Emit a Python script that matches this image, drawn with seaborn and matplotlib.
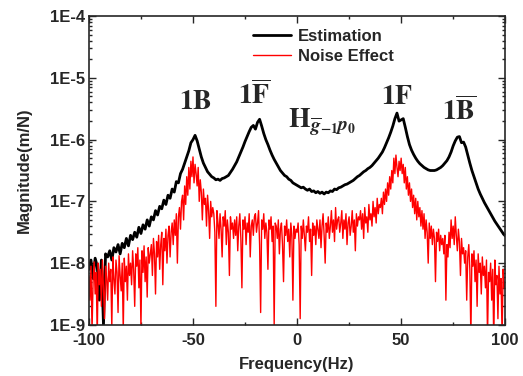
import numpy as np
import pandas as pd
import matplotlib
matplotlib.use('Agg')
import matplotlib.pyplot as plt
import matplotlib.ticker as mticker
import seaborn as sns

sns.set_style('ticks')
plt.rcParams['font.family'] = ['Liberation Sans', 'DejaVu Sans']
plt.rcParams['font.weight'] = 'bold'
plt.rcParams['mathtext.fontset'] = 'stix'
plt.rcParams['axes.unicode_minus'] = False

y_decades = [1e-9, 1e-8, 1e-7, 1e-6, 1e-5, 1e-4]

# black curve, log10 of magnitude, 1 Hz steps from -100 to 100
est_log10 = [
    -8.10, -7.95, -8.25, -7.92, -8.05, -8.60, -7.95, -9.00, -7.85, -7.90,
    -7.80, -7.95, -7.75, -7.82, -7.70, -7.85, -7.68, -7.75, -7.60, -7.72,
    -7.55, -7.62, -7.50, -7.58, -7.42, -7.52, -7.38, -7.45, -7.30, -7.40,
    -7.25, -7.30, -7.15, -7.22, -7.08, -7.12, -6.98, -7.05, -6.90, -6.95,
    -6.80, -6.85, -6.68, -6.70, -6.55, -6.48, -6.38, -6.28, -6.18, -6.05,
    -6.00, -5.93, -6.02, -6.15, -6.28, -6.38, -6.45, -6.52, -6.56, -6.60,
    -6.62, -6.65, -6.64, -6.66, -6.63, -6.62, -6.60, -6.58, -6.53, -6.48,
    -6.42, -6.36, -6.28, -6.20, -6.12, -6.03, -5.95, -5.87, -5.80, -5.77,
    -5.83, -5.72, -5.67, -5.78, -5.90, -6.00, -6.08, -6.17, -6.25, -6.32,
    -6.38, -6.44, -6.50, -6.54, -6.58, -6.60, -6.64, -6.66, -6.70, -6.72,
    -6.74, -6.76, -6.78, -6.77, -6.80, -6.82, -6.80, -6.84, -6.83, -6.86,
    -6.84, -6.87, -6.85, -6.88, -6.85, -6.86, -6.83, -6.84, -6.80, -6.81,
    -6.78, -6.77, -6.75, -6.73, -6.72, -6.70, -6.68, -6.66, -6.63, -6.60,
    -6.58, -6.55, -6.52, -6.50, -6.47, -6.45, -6.42, -6.38, -6.34, -6.30,
    -6.25, -6.20, -6.13, -6.05, -5.97, -5.88, -5.78, -5.66, -5.57, -5.70,
    -5.68, -5.66, -5.80, -5.95, -6.08, -6.17, -6.24, -6.30, -6.35, -6.39,
    -6.42, -6.45, -6.47, -6.49, -6.50, -6.50, -6.50, -6.49, -6.47, -6.45,
    -6.42, -6.38, -6.34, -6.28, -6.20, -6.10, -6.02, -5.96, -5.95, -6.05,
    -6.04, -6.12, -6.25, -6.38, -6.50, -6.60, -6.70, -6.80, -6.88, -6.95,
    -7.02, -7.08, -7.14, -7.20, -7.26, -7.32, -7.37, -7.42, -7.47, -7.52,
    -7.56,
]

# red curve, log10 of magnitude, 0.5 Hz steps from -100 to 100
noise_log10 = [
    -8.20, -8.60, -8.05, -9.10, -8.30, -7.98, -8.50, -8.15, -9.20, -8.00,
    -8.35, -8.10, -8.70, -7.95, -8.40, -8.90, -8.05, -8.25, -8.60, -8.00,
    -8.30, -8.10, -9.05, -7.90, -8.25, -8.50, -7.95, -8.15, -8.80, -7.88,
    -8.20, -8.45, -8.00, -9.10, -7.92, -8.30, -8.05, -8.60, -7.85, -8.20,
    -8.00, -8.35, -7.80, -8.10, -8.70, -7.85, -8.05, -7.75, -8.40, -7.95,
    -9.05, -7.80, -8.15, -7.72, -8.30, -7.90, -8.55, -7.75, -8.00, -7.85,
    -7.70, -8.20, -7.60, -7.85, -8.50, -7.65, -7.90, -7.55, -8.10, -7.70,
    -7.50, -8.35, -7.60, -7.80, -7.45, -8.00, -7.55, -7.40, -7.90, -7.50,
    -7.35, -7.70, -7.30, -7.55, -7.20, -8.00, -7.25, -7.10, -7.45, -7.00,
    -6.90, -7.30, -6.75, -7.05, -6.60, -6.90, -6.45, -6.80, -6.35, -6.60,
    -6.28, -6.70, -6.40, -6.55, -6.75, -6.45, -7.00, -6.65, -6.85, -7.30,
    -6.80, -7.05, -6.95, -7.40, -6.90, -7.15, -7.60, -7.00, -7.25, -7.10,
    -7.20, -7.50, -8.70, -7.15, -7.35, -7.60, -7.20, -7.45, -7.90, -7.25,
    -7.40, -7.15, -7.70, -7.30, -7.50, -8.20, -7.25, -7.45, -7.35, -7.60,
    -7.30, -7.55, -7.25, -7.80, -7.40, -7.20, -7.60, -8.40, -7.30, -7.45,
    -7.25, -7.70, -7.35, -7.50, -7.20, -7.90, -7.40, -7.30, -7.55, -7.25,
    -7.20, -7.50, -7.35, -7.15, -7.70, -8.80, -7.30, -7.45, -7.20, -7.60,
    -7.35, -7.50, -8.10, -7.30, -7.45, -7.25, -7.65, -7.40, -9.00, -7.35,
    -7.40, -7.60, -7.30, -7.85, -7.45, -7.35, -7.70, -8.30, -7.40, -7.55,
    -7.30, -7.65, -7.45, -7.90, -7.35, -7.55, -8.60, -7.40, -7.60, -7.45,
    -7.50, -7.35, -7.70, -8.90, -7.40, -7.60, -7.30, -7.55, -7.80, -7.40,
    -7.50, -7.25, -7.65, -7.45, -8.20, -7.35, -7.55, -7.40, -7.70, -7.30,
    -7.45, -7.60, -7.30, -7.75, -7.40, -7.20, -7.55, -8.00, -7.35, -7.50,
    -7.25, -7.60, -7.40, -7.15, -7.50, -7.30, -7.65, -7.10, -7.45, -7.30,
    -7.25, -7.50, -7.35, -7.15, -7.60, -7.30, -7.45, -7.20, -7.70, -7.35,
    -7.25, -7.55, -7.40, -7.15, -7.50, -7.30, -7.80, -7.20, -7.40, -7.25,
    -7.30, -7.15, -7.45, -7.20, -7.60, -7.10, -7.35, -7.25, -7.50, -7.05,
    -7.30, -7.20, -7.40, -7.00, -7.25, -7.10, -7.35, -6.95, -7.20, -7.05,
    -7.10, -6.95, -7.20, -6.85, -7.05, -6.80, -7.00, -6.70, -6.90, -6.60,
    -6.80, -6.50, -6.70, -6.30, -6.55, -6.25, -6.45, -6.60, -6.35, -6.50,
    -6.30, -6.55, -6.40, -6.70, -6.45, -6.80, -6.60, -6.90, -6.70, -7.00,
    -6.80, -7.10, -6.90, -7.20, -6.95, -7.30, -7.00, -7.25, -7.10, -7.40,
    -7.15, -7.45, -7.20, -7.60, -7.30, -7.50, -8.00, -7.35, -7.60, -7.40,
    -7.70, -7.45, -7.60, -8.30, -7.50, -7.65, -7.45, -7.80, -7.55, -7.70,
    -7.60, -7.85, -7.55, -8.60, -7.70, -7.90, -7.50, -7.75, -7.30, -7.60,
    -7.40, -7.70, -7.25, -7.55, -7.80, -7.45, -7.65, -8.20, -7.60, -7.85,
    -7.75, -8.00, -7.80, -8.60, -7.90, -7.70, -8.10, -9.20, -7.85, -8.05,
    -7.80, -8.30, -7.95, -8.70, -7.85, -8.15, -8.00, -8.50, -7.90, -8.20,
    -8.05, -8.40, -7.95, -9.20, -8.15, -8.30, -8.00, -8.60, -8.10, -9.30,
    -7.95, -8.35, -8.20, -8.90, -8.05, -8.50, -8.25, -9.20, -8.10, -8.40,
    -8.30,
]

est_freq = np.linspace(-100, 100, len(est_log10))
noise_freq = np.linspace(-100, 100, len(noise_log10))

est_df = pd.DataFrame({'Frequency': est_freq, 'Magnitude': 10.0 ** np.array(est_log10)})
noise_df = pd.DataFrame({'Frequency': noise_freq, 'Magnitude': 10.0 ** np.array(noise_log10)})

fig = plt.figure(figsize=(5.23, 3.76), dpi=100)
ax = fig.add_axes([0.170, 0.136, 0.796, 0.821])

sns.lineplot(data=est_df, x='Frequency', y='Magnitude', ax=ax,
             color='black', lw=2, label='Estimation')
sns.lineplot(data=noise_df, x='Frequency', y='Magnitude', ax=ax,
             color='red', lw=1.0, label='Noise Effect')

ax.set_yscale('log')
ax.set_ylim(1e-9, 1e-4)
ax.set_xlim(-100, 100)
ax.set_xticks([-100, -50, 0, 50, 100])
ax.set_xticks([-75, -25, 25, 75], minor=True)
ax.yaxis.set_major_locator(mticker.FixedLocator(y_decades))
minor_y = [m * d for d in y_decades[:-1] for m in range(2, 10)]
ax.yaxis.set_minor_locator(mticker.FixedLocator(minor_y))
ax.yaxis.set_major_formatter(mticker.FuncFormatter(lambda v, p: f'1E{int(round(np.log10(v)))}'))
ax.yaxis.set_minor_formatter(mticker.NullFormatter())

ax.tick_params(which='both', direction='in', top=True, right=True, width=1)
ax.tick_params(which='major', length=5, labelsize=12, pad=3)
ax.tick_params(axis='x', which='major', pad=6)
ax.tick_params(which='minor', length=2.5)
for lbl in ax.get_xticklabels() + ax.get_yticklabels():
    lbl.set_fontweight('bold')
for sp in ax.spines.values():
    sp.set_linewidth(1.2)
    sp.set_visible(True)

ax.set_xlabel('Frequency(Hz)', fontsize=12, fontweight='bold', labelpad=6)
ax.set_ylabel('Magnitude(m/N)', fontsize=12, fontweight='bold', labelpad=13)

ann = dict(fontsize=20, va='center')
ax.text(-49, 10 ** -5.39, r'$1\mathbf{B}$', ha='center', **ann)
ax.text(-20.5, 10 ** -5.28, r'$1\overline{\mathbf{F}}$', ha='center', **ann)
ax.text(-4.5, 10 ** -5.72, r'$\mathbf{H}_{\overline{g}_{-1}p_0}$', ha='left', **ann)
ax.text(48, 10 ** -5.31, r'$1\mathbf{F}$', ha='center', **ann)
ax.text(78, 10 ** -5.54, r'$1\overline{\mathbf{B}}$', ha='center', **ann)

ax.legend(loc='upper left', bbox_to_anchor=(0.37, 0.99), frameon=False,
          prop={'weight': 'bold', 'size': 12}, handlelength=2.3,
          handletextpad=0.4, labelspacing=0.3, borderaxespad=0.2)

fig.savefig('out.png', dpi=100)
